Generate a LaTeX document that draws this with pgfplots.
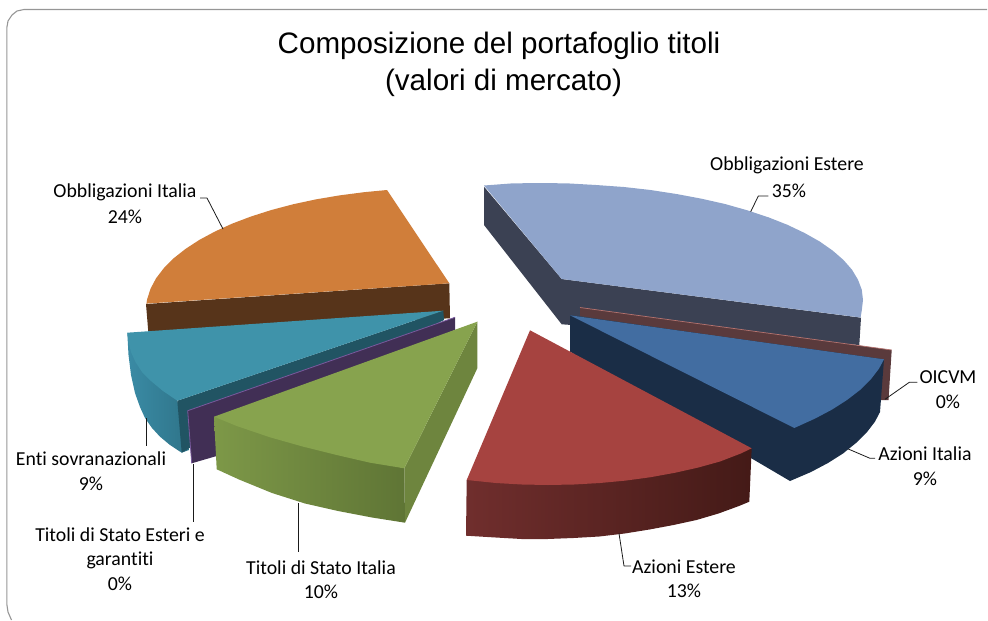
\documentclass[border=0pt]{standalone}
\usepackage{pgfplots}
\pgfplotsset{compat=1.18}
\usepackage{fontspec}
\setmainfont{Carlito}[Ligatures=CommonOff]
\newfontfamily\titlefont{Liberation Sans}
\definecolor{frame}{HTML}{969696}
\definecolor{lavT}{HTML}{8FA4CB}
\definecolor{lavS}{HTML}{3B4153}
\definecolor{oicS}{HTML}{5A3A3C}
\definecolor{oicE}{HTML}{B5736F}
\definecolor{bluT}{HTML}{426DA1}
\definecolor{bluS}{HTML}{1A2D46}
\definecolor{redT}{HTML}{A64340}
\definecolor{redL}{HTML}{702E2D}
\definecolor{redR}{HTML}{441A17}
\definecolor{oraT}{HTML}{D07E3A}
\definecolor{oraS}{HTML}{57341A}
\definecolor{teaT}{HTML}{3F93AA}
\definecolor{teaL}{HTML}{3A8BA5}
\definecolor{teaR}{HTML}{2F7489}
\definecolor{teaS}{HTML}{215463}
\definecolor{purS}{HTML}{412F55}
\definecolor{purE}{HTML}{7A5A9E}
\definecolor{greT}{HTML}{87A34E}
\definecolor{greL}{HTML}{7D9848}
\definecolor{greR}{HTML}{5F7535}
\definecolor{greS}{HTML}{6E853E}
\definecolor{lead}{HTML}{1A1A1A}
\tikzset{
  lbl/.style={font=\fontsize{19.8}{21}\selectfont, text=black, inner sep=0pt, anchor=center},
  ttl/.style={font=\fontsize{29.6}{32}\selectfont\titlefont, text=black, inner sep=0pt, anchor=center},
}
\begin{document}
\begin{tikzpicture}
\begin{axis}[
  scale only axis, width=988pt, height=621pt,
  xmin=0, xmax=988, ymin=0, ymax=621, y dir=reverse,
  hide axis, clip=false,
  every axis plot/.append style={draw=none, mark=none, line join=round},
]
\path (axis cs:0,0) rectangle (axis cs:988,621);
% frame
\addplot[draw=frame, line width=1.1pt] coordinates {
 (11.5,620)(8,612)(6.8,604)(6.8,28)(8,21)(12,15)(17,11)(24,9.5)(987,9.5)};
% orange
\addplot[fill=oraS] coordinates {(146,304)(148.3,332)(450,318.3)(449.3,283.3)} -- cycle;
\addplot[fill=oraT] coordinates {(449.3,283.3)(387,190)(364,192.2)(339.4,195.4)(315.8,199.4)(293,204.3)(271.4,210)(251,216.5)(232,223.7)(214.8,231.6)(199.2,240)(185.4,249)(173.5,258.4)(163.7,268.3)(156,278.4)(150.5,288.8)(147.1,299.4)(146.4,303.6)} -- cycle;
% lavender
\addplot[fill=lavS] coordinates {(484,186.7)(484,225)(561.7,324.3)(859.3,345)(861,317.7)(561.7,279)} -- cycle;
\addplot[fill=lavT] coordinates {(561.7,279)(484,185.5)(512,183.4)(540,183)(568,183.4)(596,185)(624,187)(650.5,190)(676.5,194)(701.5,198.7)(725,204)(747.6,210.4)(768.4,217.3)(787.4,224.8)(804.6,233)(819.7,241.5)(832.7,250.6)(843.5,260)(852,269.7)(858,279.7)(861.8,289.8)(863,300)(861.8,310.2)(860.6,317.5)} -- cycle;
% OICVM
\addplot[fill=oicS] coordinates {(580,307.5)(891.7,350)(888.5,400)(880,400)(880,360)(580,316)} -- cycle;
\addplot[draw=oicE, line width=0.7pt] coordinates {(580,307.5)(891.7,350)};
% Azioni Italia
\addplot[fill=bluS] coordinates {(570,315.3)(570,351.7)(790,481)(811,472)(828,463)(843,453.5)(856,443)(866.7,432.5)(875,421.6)(880,412)(884,359.3)} -- cycle;
\addplot[fill=bluT] coordinates {(570,315.3)(884,359.3)(879,368.6)(870.7,379.5)(860,390)(847,400)(832,409.6)(815,418.6)(794.3,428)} -- cycle;
% Azioni Estere
\addplot[left color=redL, right color=redR] coordinates {(466.7,480)(466,535.7)(495.7,537.5)(521.5,539)(547.6,539)(573.5,538)(599.3,536.5)(624.7,533.5)(649.5,529.5)(673.5,525)(696.5,520)(718.5,513.5)(739,506)(749.3,501.7)(751.7,448.3)} -- cycle;
\addplot[fill=redT] coordinates {(530,330.3)(751.7,448.3)(740.8,453.5)(720,461.5)(698,467.6)(674.8,472.8)(650.6,477.2)(625.6,480.6)(600,483)(574,484.5)(548,485)(521.9,484.5)(495.9,483)(466.7,480)} -- cycle;
% Enti
\addplot[left color=teaL, right color=teaR] coordinates {(127.3,332.7)(128.5,355)(131,375)(135,393)(140,407)(145,418)(152,428)(160,436.7)(170,445)(181.7,452.7)(189,450)(177.3,400.7)} -- cycle;
\addplot[fill=teaS] coordinates {(177.3,400.7)(181.7,452.7)(191.7,446.7)(444,320)(443.3,310.7)} -- cycle;
\addplot[fill=teaT] coordinates {(443.3,310.7)(127.3,332.7)(128.5,342)(131,352)(135.5,362)(142,372)(151,381)(163,391)(177.3,400.7)} -- cycle;
% Titoli esteri
\addplot[fill=purS] coordinates {(187.7,410.7)(455,317.3)(455,330)(290,395)(216.7,456)(191.7,463.3)} -- cycle;
\addplot[draw=purE, line width=0.8pt] coordinates {(191.7,463.3)(187.7,410.7)(455,317.3)};
% Titoli Italia
\addplot[fill=greS] coordinates {(477.3,321.7)(477.3,368.3)(405,522.7)(404.3,468.3)} -- cycle;
\addplot[left color=greL, right color=greR] coordinates {(214,416.7)(216.7,469.3)(239,479.5)(272,493)(305,503.5)(338,511)(372,517.5)(405,522.7)(404.3,468.3)} -- cycle;
\addplot[fill=greT] coordinates {(477.3,321.7)(404.3,468.3)(370,462.7)(336.7,455)(303.3,446.7)(270,437.3)(236.7,426)(214,416.7)} -- cycle;
% leaders
\addplot[draw=lead, line width=0.8pt] coordinates {(750.7,211.7)(758.3,196)(768.3,196)};
\addplot[draw=lead, line width=0.8pt] coordinates {(885,399.3)(909.3,382.3)(917.3,382.3)};
\addplot[draw=lead, line width=0.8pt] coordinates {(848.3,449)(870,458.3)(875,458.3)};
\addplot[draw=lead, line width=0.8pt] coordinates {(619,533.3)(624,566)(631,566)};
\addplot[draw=lead, line width=0.8pt] coordinates {(298,503)(298,552)};
\addplot[draw=lead, line width=0.8pt] coordinates {(193.5,464)(193.5,522)};
\addplot[draw=lead, line width=0.8pt] coordinates {(146,418)(146,446)};
\addplot[draw=lead, line width=0.8pt] coordinates {(223,229)(207,198)(200,198)};
% text
\node[ttl] at (axis cs:499,46) {Composizione del portafoglio titoli};
\node[ttl] at (axis cs:503.5,83) {(valori di mercato)};
\node[lbl] at (axis cs:787,165) {Obbligazioni Estere};
\node[lbl] at (axis cs:789,191) {35\%};
\node[lbl] at (axis cs:125,192) {Obbligazioni Italia};
\node[lbl] at (axis cs:125,217) {24\%};
\node[lbl] at (axis cs:948,377) {OICVM};
\node[lbl] at (axis cs:948,402) {0\%};
\node[lbl] at (axis cs:925,454) {Azioni Italia};
\node[lbl] at (axis cs:925,479) {9\%};
\node[lbl] at (axis cs:684,567) {Azioni Estere};
\node[lbl] at (axis cs:684,591) {13\%};
\node[lbl] at (axis cs:321,568) {Titoli di Stato Italia};
\node[lbl] at (axis cs:321,592) {10\%};
\node[lbl] at (axis cs:120,535) {Titoli di Stato Esteri e};
\node[lbl] at (axis cs:120,560) {garantiti};
\node[lbl] at (axis cs:120,584) {0\%};
\node[lbl] at (axis cs:91,459) {Enti sovranazionali};
\node[lbl] at (axis cs:91,484) {9\%};
\end{axis}
\end{tikzpicture}
\end{document}
